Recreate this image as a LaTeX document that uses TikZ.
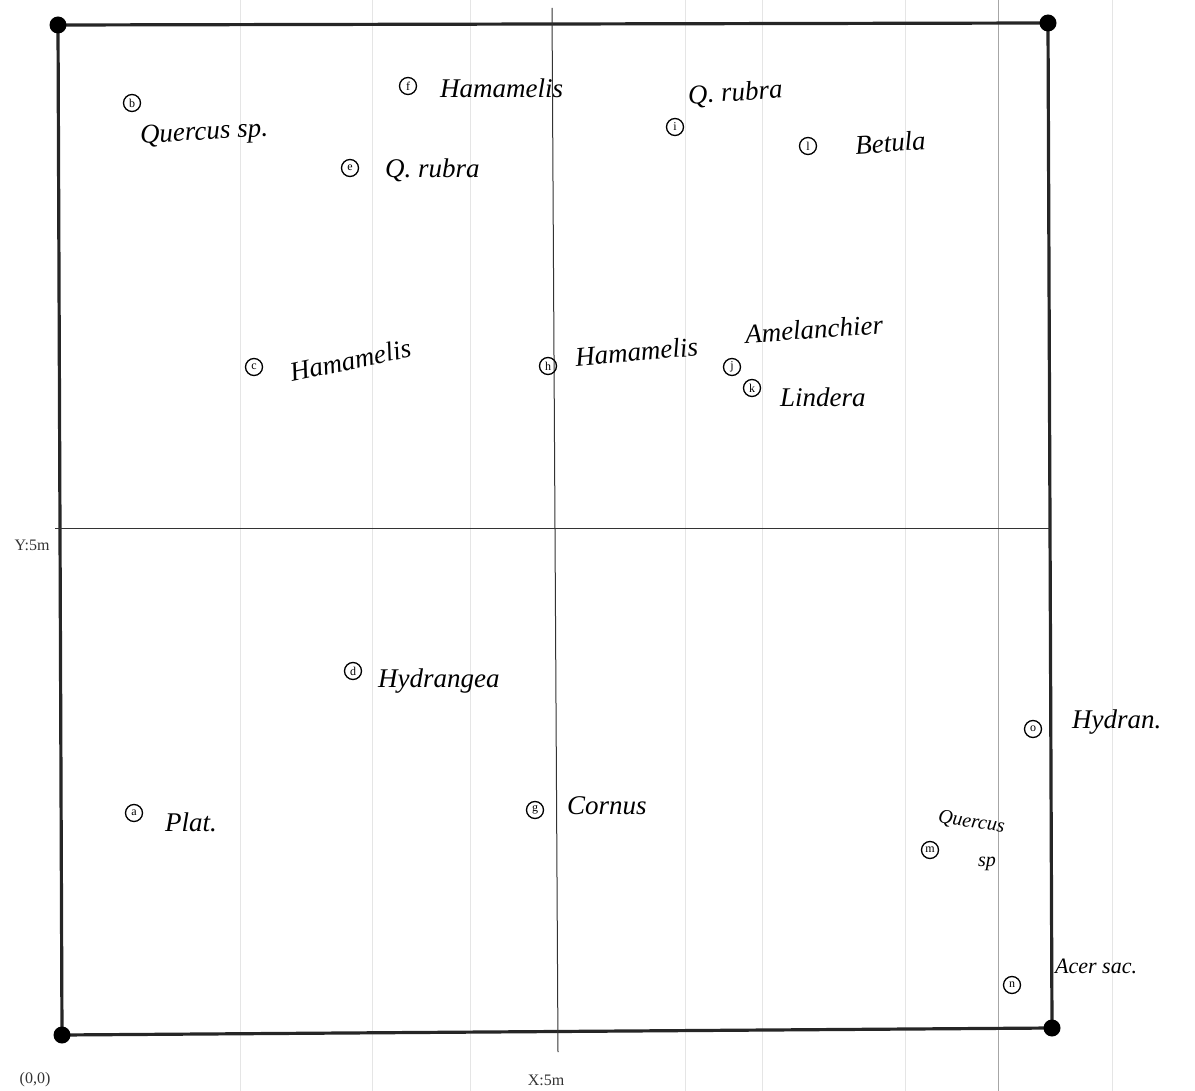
\documentclass[tikz,border=0pt]{standalone}
\usepackage{fontspec}
\setmainfont{Liberation Serif}
\begin{document}
\begin{tikzpicture}[x=1pt,y=-1pt,
  tree/.style={circle,draw,line width=1.3pt,minimum size=17pt,inner sep=0pt,font=\fontsize{12}{12}\selectfont},
  hw/.style={font=\fontsize{27}{29}\selectfont\itshape,anchor=west,inner sep=0pt},
  hws/.style={font=\fontsize{20}{22}\selectfont\itshape,anchor=west,inner sep=0pt},
  axl/.style={font=\fontsize{16}{16}\selectfont,text=black!80,inner sep=0pt},
  corner/.style={circle,fill=black,minimum size=17pt,inner sep=0pt},
  faint/.style={draw=black!10,line width=0.8pt}]
\useasboundingbox (0,0) rectangle (1195,1091);
% scanner streaks
\foreach \x in {240,372,470,685,762,905,1112}{\draw[faint] (\x,0) -- (\x,1091);}
\draw[draw=black!35,line width=0.8pt] (998,0) -- (998,1091);
% frame corners
\coordinate (c1) at (58,25);
\coordinate (c2) at (1048,23);
\coordinate (c3) at (1052,1028);
\coordinate (c4) at (62,1035);
\draw[line width=3.2pt,black!85] (c1) -- (c2) -- (c3) -- (c4) -- cycle;
\foreach \c in {c1,c2,c3,c4}{\node[corner] at (\c) {};}
% mid lines
\coordinate (vt) at (552,8);
\coordinate (vb) at (558,1052);
\coordinate (hl) at (55,528);
\coordinate (hr) at (1050,528);
\draw[line width=1pt,black!80] (vt) -- (vb);
\draw[line width=1pt,black!80] (hl) -- (hr);
% axis labels
\node[axl] (ylab) at (32,545) {Y:5m};
\node[axl] (orig) at (35,1080) {(0,0)};
\node[axl] (xlab) at (546,1080) {X:5m};
% trees
\node[tree] (a) at (134,813) {a};
\node[tree] (b) at (132,103) {b};
\node[tree] (c) at (254,367) {c};
\node[tree] (d) at (353,671) {d};
\node[tree] (e) at (350,168) {e};
\node[tree] (f) at (408,86) {f};
\node[tree] (g) at (535,810) {g};
\node[tree] (h) at (548,366) {h};
\node[tree] (i) at (675,127) {i};
\node[tree] (j) at (732,367) {j};
\node[tree] (k) at (752,388) {k};
\node[tree] (l) at (808,146) {l};
\node[tree] (m) at (930,850) {m};
\node[tree] (n) at (1012,985) {n};
\node[tree] (o) at (1033,729) {o};
% species names
\node[hw,rotate=3] (tb) at (140,137) {Quercus sp.};
\node[hw] (tf) at (440,88) {Hamamelis};
\node[hw] (te) at (385,170) {Q. rubra};
\node[hw,rotate=4] (ti) at (688,97) {Q. rubra};
\node[hw,rotate=4] (tl) at (855,145) {Betula};
\node[hw,rotate=12] (tc) at (290,373) {Hamamelis};
\node[hw,rotate=5] (th) at (575,357) {Hamamelis};
\node[hw,rotate=4] (tj) at (745,334) {Amelanchier};
\node[hw] (tk) at (780,397) {Lindera};
\node[hw] (td) at (378,681) {Hydrangea};
\node[hw] (ta) at (165,822) {Plat.};
\node[hw] (tg) at (567,806) {Cornus};
\node[hw] (to) at (1072,722) {Hydran.};
\node[hws,rotate=-8] (tm) at (938,818) {Quercus};
\node[hws] (tm2) at (978,864) {sp};
\node[hws,font=\fontsize{22}{24}\selectfont\itshape] (tn) at (1055,966) {Acer sac.};
\end{tikzpicture}
\end{document}
